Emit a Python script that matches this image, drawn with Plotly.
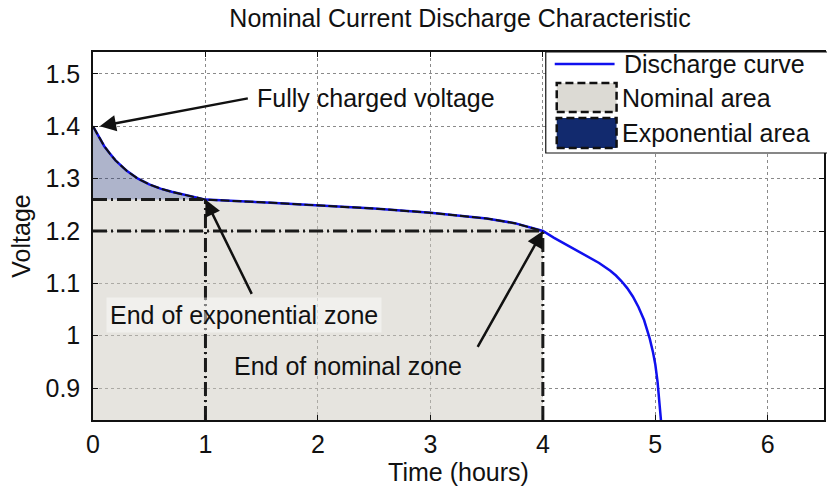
"""Nominal current discharge characteristic (battery model)."""
import plotly.graph_objects as go

# discharge curve
hours = [0, 0.05, 0.1, 0.15, 0.2, 0.3, 0.4, 0.5, 0.6, 0.7, 0.8, 0.9, 1.0,
         1.5, 2.0, 2.5, 3.0, 3.25, 3.5, 3.75, 4.0,
         4.1, 4.2, 4.3, 4.4, 4.5, 4.6, 4.65, 4.7, 4.75, 4.8, 4.85, 4.9, 4.95, 4.98, 5.0, 5.02, 5.04, 5.06]
volts = [1.400, 1.380, 1.362, 1.348, 1.335, 1.315, 1.300, 1.289, 1.281, 1.275, 1.270, 1.265, 1.260,
         1.255, 1.249, 1.243, 1.235, 1.230, 1.224, 1.215, 1.200,
         1.187, 1.175, 1.163, 1.151, 1.139, 1.124, 1.115, 1.104, 1.091, 1.075, 1.055, 1.030, 0.995, 0.968, 0.945, 0.912, 0.870, 0.815]

full_charge = (hours[0], volts[0])
exp_zone_end = (1.0, 1.26)
nom_zone_end = (4.0, 1.20)

x_ticks = [0, 1, 2, 3, 4, 5, 6]
y_ticks = [0.9, 1.0, 1.1, 1.2, 1.3, 1.4, 1.5]

X_RANGE = [0, 6.5]
Y_RANGE = [0.839, 1.542]

FONT = "Liberation Sans, Arial, Helvetica, sans-serif"
FS = 25
BLUE = "#1010ee"
DASH = "14px,4px,2px,4px"

# plot area in pixels (for the hand-built legend)
W, H = 827, 486
L, R, T, B = 93, 826, 52, 420


def px(x):
    return (x - L) / (R - L)


def py(y):
    return (B - y) / (B - T)


fig = go.Figure()

# nominal area: under the curve, capped at the exponential-zone level
nom_x = [0] + [h for h in hours if exp_zone_end[0] <= h <= nom_zone_end[0]]
nom_y = [exp_zone_end[1]] + [v for h, v in zip(hours, volts) if exp_zone_end[0] <= h <= nom_zone_end[0]]
fig.add_trace(go.Scatter(
    x=nom_x, y=nom_y, mode="lines", fill="tozeroy",
    fillcolor="rgba(205,202,192,0.5)", line=dict(width=0),
    showlegend=False, hoverinfo="skip",
))

# exponential area: curve above the exponential-zone level
exp_x = [h for h in hours if h <= exp_zone_end[0]] + [0]
exp_y = [v for h, v in zip(hours, volts) if h <= exp_zone_end[0]] + [exp_zone_end[1]]
fig.add_trace(go.Scatter(
    x=exp_x, y=exp_y, mode="lines", fill="toself",
    fillcolor="rgba(30,48,110,0.36)", line=dict(width=0),
    showlegend=False, hoverinfo="skip",
))

fig.add_trace(go.Scatter(
    x=hours, y=volts, mode="lines", line=dict(color=BLUE, width=2.5),
    showlegend=False,
))

# dashed outline of the areas along the curve
seg_x = [h for h in hours if h <= nom_zone_end[0]]
seg_y = volts[:len(seg_x)]
fig.add_trace(go.Scatter(
    x=seg_x, y=seg_y, mode="lines",
    line=dict(color="#111111", width=2, dash="9px,3px"),
    showlegend=False, hoverinfo="skip",
))

# zone marker lines
for xe, ye in (exp_zone_end, nom_zone_end):
    fig.add_trace(go.Scatter(
        x=[0, xe], y=[ye, ye], mode="lines",
        line=dict(color="#1a1a1a", width=3, dash=DASH),
        showlegend=False, hoverinfo="skip",
    ))
    fig.add_trace(go.Scatter(
        x=[xe, xe], y=[Y_RANGE[0], ye], mode="lines",
        line=dict(color="#1a1a1a", width=3, dash=DASH),
        showlegend=False, hoverinfo="skip",
    ))

arrow = dict(showarrow=True, arrowhead=2, arrowsize=1.3, arrowwidth=2.5,
             arrowcolor="#111111", axref="x", ayref="y", text="")
fig.add_annotation(x=full_charge[0] + 0.06, y=full_charge[1], ax=1.39, ay=1.454, **arrow)
fig.add_annotation(x=exp_zone_end[0], y=exp_zone_end[1], ax=1.418, ay=1.077, **arrow)
fig.add_annotation(x=nom_zone_end[0], y=nom_zone_end[1], ax=3.413, ay=0.976, **arrow)

label = dict(showarrow=False, xanchor="left", yanchor="middle",
             font=dict(family=FONT, size=FS, color="#111111"))
fig.add_annotation(x=1.44, y=1.454, text="Fully charged voltage", **label)
fig.add_annotation(x=0.115, y=1.039, text="End of exponential zone",
                   bgcolor="rgba(255,255,255,0.45)", borderpad=3, **label)
fig.add_annotation(x=1.232, y=0.942, text="End of nominal zone", **label)

# hand-built legend (large MATLAB-style symbols)
shapes = [
    dict(type="rect", xref="paper", yref="paper", x0=px(547), x1=px(830), y0=py(153), y1=py(T),
         fillcolor="white", line=dict(color="#111111", width=1.2), layer="above"),
    dict(type="line", xref="paper", yref="paper", x0=px(556), x1=px(616), y0=py(64), y1=py(64),
         line=dict(color=BLUE, width=2.5), layer="above"),
    dict(type="rect", xref="paper", yref="paper", x0=px(558), x1=px(618), y0=py(112), y1=py(83),
         fillcolor="#dcdad4", line=dict(color="#111111", width=2.5, dash="8px,4px"), layer="above"),
    dict(type="rect", xref="paper", yref="paper", x0=px(558), x1=px(618), y0=py(148), y1=py(118),
         fillcolor="#122a6e", line=dict(color="#111111", width=2.5, dash="8px,4px"), layer="above"),
]
for text, ypix, xpix in (("Discharge curve", 64, 623), ("Nominal area", 98, 621),
                         ("Exponential area", 133, 621)):
    fig.add_annotation(xref="paper", yref="paper", x=px(xpix), y=py(ypix),
                       text=text, **label)

axis = dict(
    showline=True, linecolor="#111111", linewidth=1.5, mirror="ticks",
    ticks="inside", ticklen=5, tickcolor="#111111",
    showgrid=True, gridcolor="#8a8a8a", gridwidth=1, griddash="dot",
    zeroline=False, tickfont=dict(family=FONT, size=FS, color="#111111"),
)
fig.update_xaxes(range=X_RANGE, tickvals=x_ticks, ticklabelstandoff=1,
                 title=dict(text="Time (hours)", standoff=4,
                            font=dict(family=FONT, size=FS, color="#111111")),
                 **axis)
fig.update_yaxes(range=Y_RANGE, tickvals=y_ticks, ticklabelstandoff=6,
                 title=dict(text="Voltage", standoff=8,
                            font=dict(family=FONT, size=FS, color="#111111")),
                 **axis)

fig.update_layout(
    width=W, height=H,
    margin=dict(l=L, r=W - R, t=T, b=H - B),
    paper_bgcolor="white", plot_bgcolor="white",
    shapes=shapes,
    title=dict(text="Nominal Current Discharge Characteristic",
               x=460 / W, xanchor="center", y=1 - 18 / H, yanchor="middle",
               font=dict(family=FONT, size=FS, color="#111111")),
    showlegend=False,
)

# drop the browser's default body margin so the figure sits at the page corner
fig.write_html("out.html", config={"displayModeBar": False},
               post_script="document.body.style.margin='0';")
